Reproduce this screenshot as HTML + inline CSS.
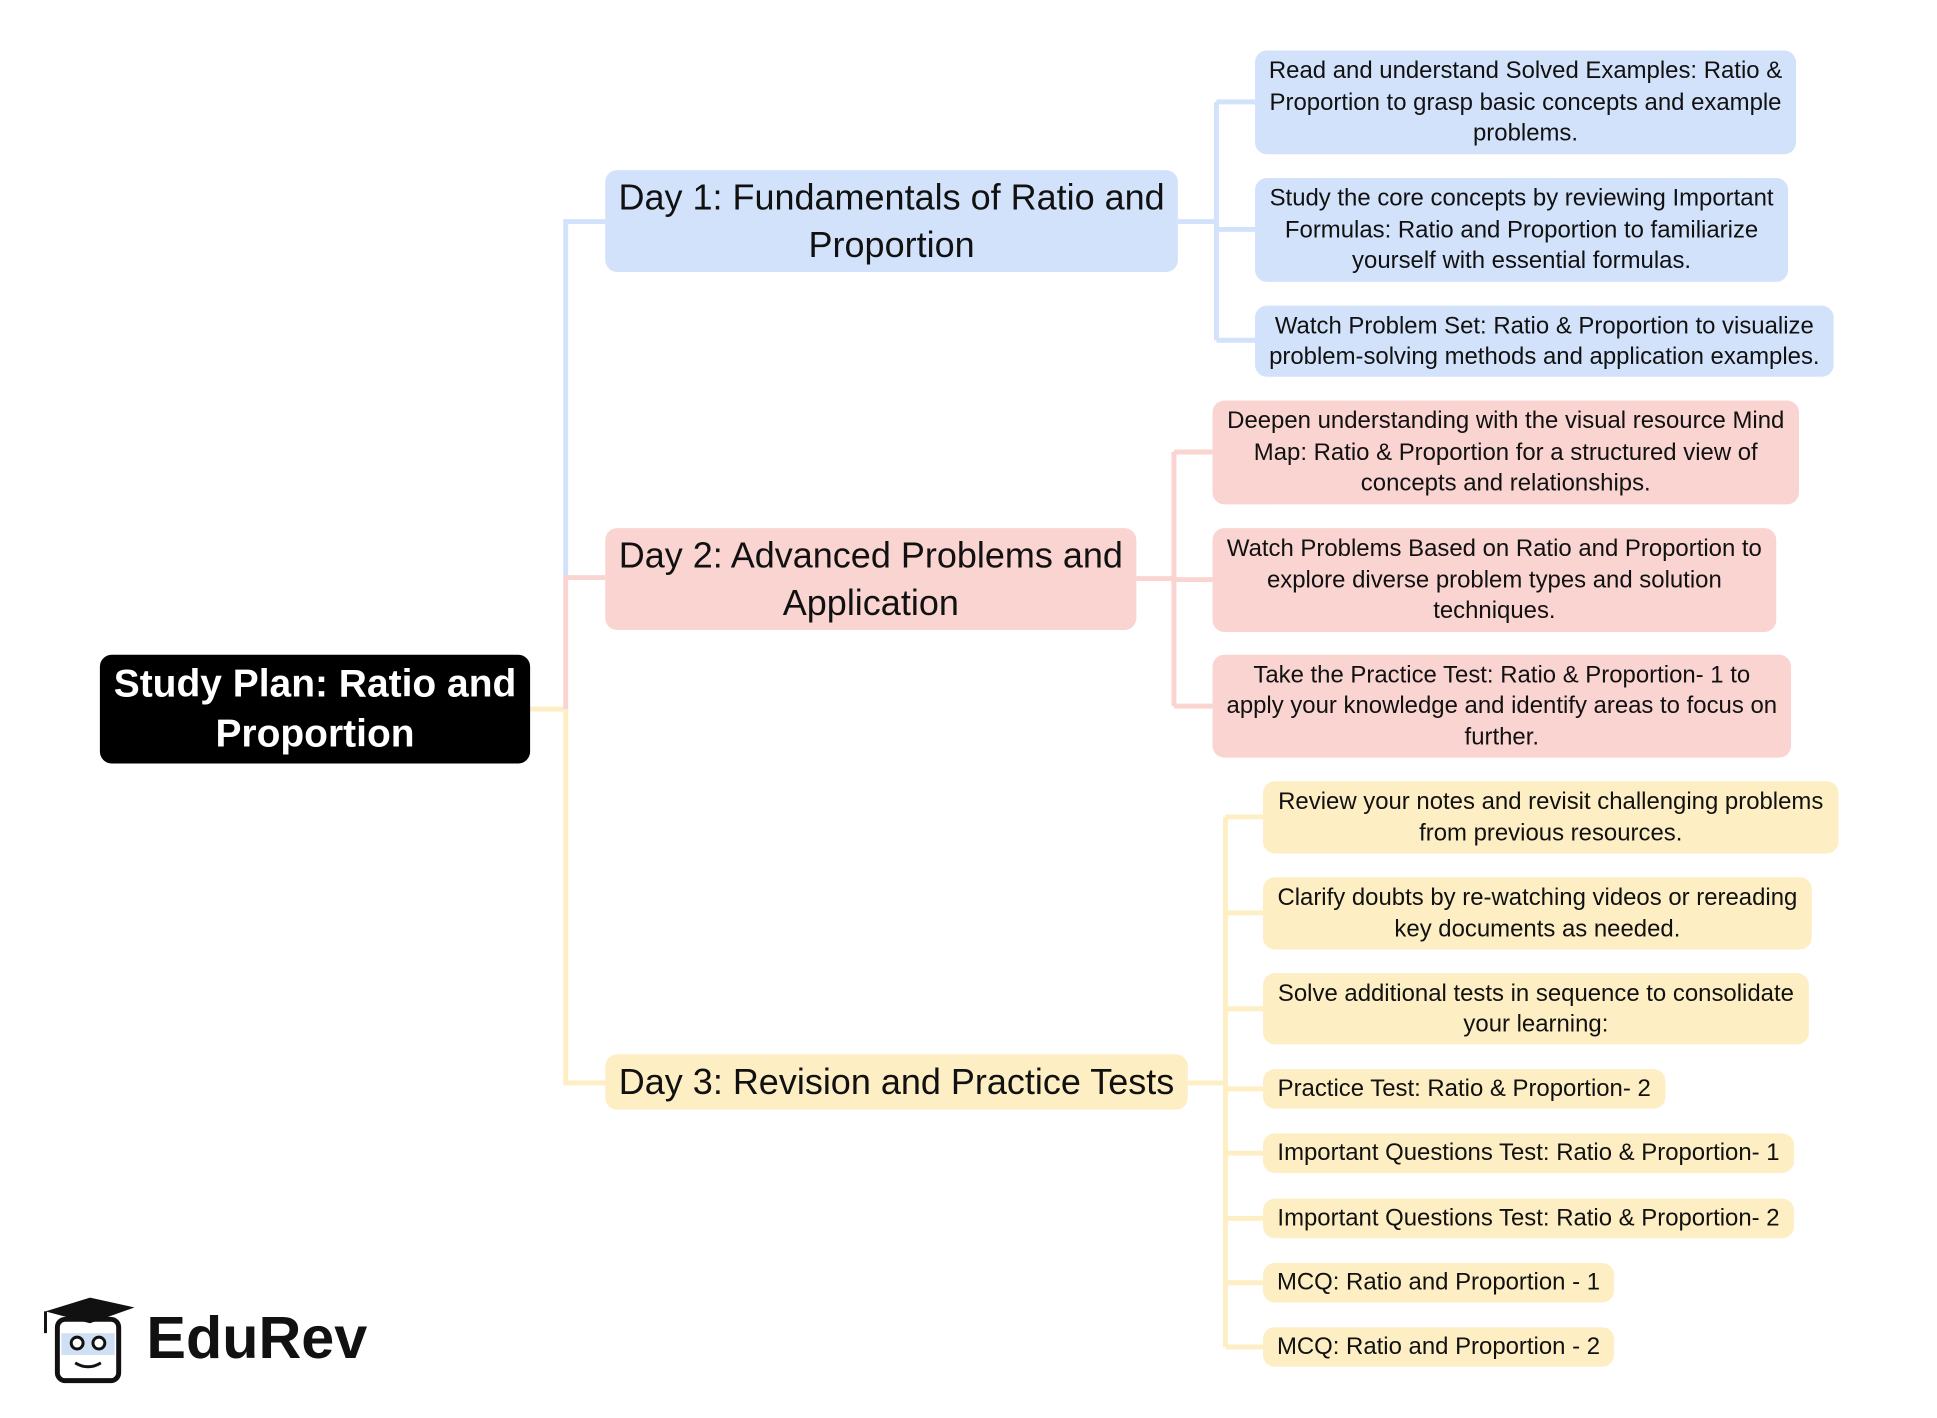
<!DOCTYPE html>
<html><head><meta charset="utf-8"><style>
body{margin:0;width:1937px;height:1418px;background:#fff;position:relative;overflow:hidden;font-family:"Liberation Sans",sans-serif;}
#w{position:absolute;left:0;top:0;width:1937px;height:1418px;transform:scale(0.989);transform-origin:0 0;}
.n{position:absolute;display:flex;align-items:center;justify-content:center;text-align:center;box-sizing:border-box;border-radius:12px;color:#111;line-height:1.4;white-space:nowrap;}
.b{background:#d3e2fb}.p{background:#f9d4d1}.y{background:#fdeec4}
.d{font-size:36.4px;line-height:1.3}
.c{font-size:24.2px;padding:0;line-height:1.3}
</style></head><body><div id="w">
<svg width="1937" height="1418" style="position:absolute;left:0;top:0">
<g fill="none" stroke-width="5">
<path d="M536 717 H572" stroke="#fdeec4"/>
<path d="M572 584 V224 H612" stroke="#d3e2fb"/>
<path d="M572 717 V584 H612" stroke="#f9d4d1"/>
<path d="M572 717 V1095 H612" stroke="#fdeec4"/>
<path d="M1191 224 H1230 M1230 103 V344 M1230 103 H1269 M1230 232 H1269 M1230 344 H1269" stroke="#d3e2fb"/>
<path d="M1149 585 H1187 M1187 457 V714 M1187 457 H1226 M1187 586 H1226 M1187 714 H1226" stroke="#f9d4d1"/>
<path d="M1201 1095 H1239 M1239 826 V1362 M1239 826 H1277 M1239 923 H1277 M1239 1020 H1277 M1239 1101 H1277 M1239 1166 H1277 M1239 1232 H1277 M1239 1297 H1277 M1239 1362 H1277" stroke="#fdeec4"/>
</g></svg>
<div class="n" style="left:101px;top:662px;width:435px;height:110px;background:#000;color:#fff;font-weight:bold;font-size:39.4px;line-height:1.3">Study Plan: Ratio and<br>Proportion</div>
<div class="n b d" style="left:612px;top:172px;width:579px;height:103px">Day 1: Fundamentals of Ratio and<br>Proportion</div>
<div class="n p d" style="left:612px;top:534px;width:537px;height:103px">Day 2: Advanced Problems and<br>Application</div>
<div class="n y d" style="left:612px;top:1066px;width:589px;height:56px">Day 3: Revision and Practice Tests</div>

<div class="n b c" style="left:1269px;top:51px;width:547px;height:105px">Read and understand Solved Examples: Ratio &amp;<br>Proportion to grasp basic concepts and example<br>problems.</div>
<div class="n b c" style="left:1269px;top:180px;width:539px;height:105px">Study the core concepts by reviewing Important<br>Formulas: Ratio and Proportion to familiarize<br>yourself with essential formulas.</div>
<div class="n b c" style="left:1269px;top:309px;width:585px;height:72px">Watch Problem Set: Ratio &amp; Proportion to visualize<br>problem-solving methods and application examples.</div>

<div class="n p c" style="left:1226px;top:405px;width:593px;height:105px">Deepen understanding with the visual resource Mind<br>Map: Ratio &amp; Proportion for a structured view of<br>concepts and relationships.</div>
<div class="n p c" style="left:1226px;top:534px;width:570px;height:105px">Watch Problems Based on Ratio and Proportion to<br>explore diverse problem types and solution<br>techniques.</div>
<div class="n p c" style="left:1226px;top:662px;width:585px;height:104px">Take the Practice Test: Ratio &amp; Proportion- 1 to<br>apply your knowledge and identify areas to focus on<br>further.</div>

<div class="n y c" style="left:1277px;top:790px;width:582px;height:73px">Review your notes and revisit challenging problems<br>from previous resources.</div>
<div class="n y c" style="left:1277px;top:887px;width:555px;height:73px">Clarify doubts by re-watching videos or rereading<br>key documents as needed.</div>
<div class="n y c" style="left:1277px;top:984px;width:552px;height:72px">Solve additional tests in sequence to consolidate<br>your learning:</div>
<div class="n y c" style="left:1277px;top:1081px;width:407px;height:40px">Practice Test: Ratio &amp; Proportion- 2</div>
<div class="n y c" style="left:1277px;top:1146px;width:537px;height:40px">Important Questions Test: Ratio &amp; Proportion- 1</div>
<div class="n y c" style="left:1277px;top:1212px;width:537px;height:40px">Important Questions Test: Ratio &amp; Proportion- 2</div>
<div class="n y c" style="left:1277px;top:1277px;width:355px;height:40px">MCQ: Ratio and Proportion - 1</div>
<div class="n y c" style="left:1277px;top:1342px;width:355px;height:40px">MCQ: Ratio and Proportion - 2</div>

<svg width="110" height="95" style="position:absolute;left:36px;top:1308px">
<polygon points="10,18 55,4 100,14 55,30" fill="#111"/>
<rect x="22" y="26" width="62" height="62" rx="8" fill="none" stroke="#111" stroke-width="5"/>
<rect x="26" y="40" width="54" height="22" fill="#cfe0f5"/>
<circle cx="42" cy="50" r="6" fill="#fff" stroke="#111" stroke-width="3"/>
<circle cx="64" cy="50" r="6" fill="#fff" stroke="#111" stroke-width="3"/>
<line x1="10" y1="18" x2="10" y2="40" stroke="#111" stroke-width="3"/>
<path d="M40 70 Q53 78 66 70" stroke="#111" stroke-width="3" fill="none"/>
</svg>
<div style="position:absolute;left:148px;top:1318px;font-size:60px;font-weight:bold;color:#111">EduRev</div>
</div></body></html>
